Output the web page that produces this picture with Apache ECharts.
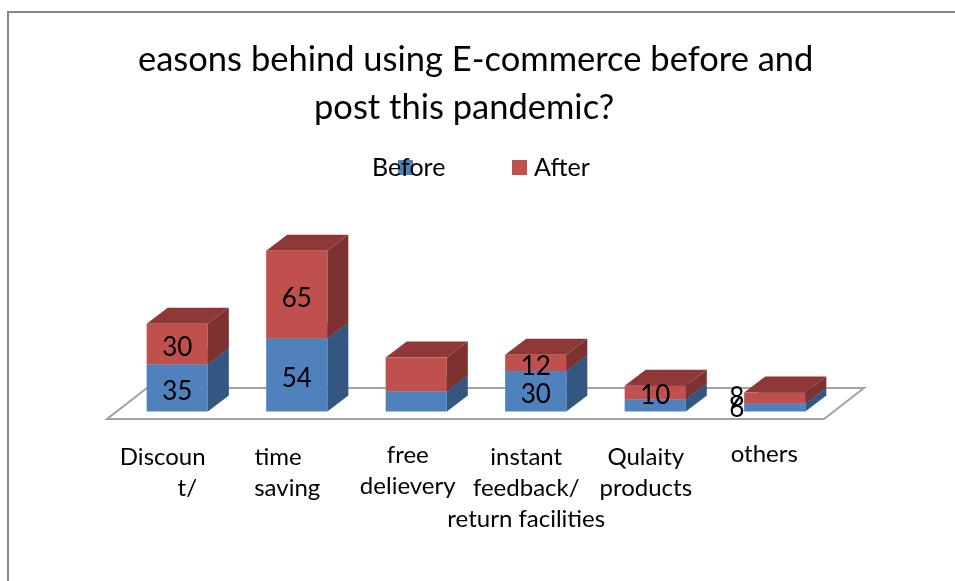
<!DOCTYPE html>
<html><head><meta charset="utf-8">
<style>html,body{margin:0;padding:0;background:#fff}#c{width:955px;height:581px}</style>
<script src="https://cdn.jsdelivr.net/npm/echarts@6/dist/echarts.min.js"></script>
</head><body><div id="c"></div>
<script>
const categories = ['Discoun\n        t/', 'time   \nsaving', 'free\ndelievery', 'instant\nfeedback/\nreturn facilities', 'Qulaity\nproducts', 'others'];
const before = [35, 54, 15, 30, 9, 6];
const after = [30, 65, 25, 12, 10, 8];
const beforeLabels = ['35', '54', '', '30', '', '6'];
const afterLabels = ['30', '65', '', '12', '10', '8'];
const titleLines = ['easons behind using E-commerce before and', 'post this pandemic?'];
const FONT = 'Lato';
const depthX = 21, depthY = 16;
const labelPads = [[3,8,0,0],[3,0,0,2],[1,0,0,4],[3,0,0,2],[3,0,0,2],[0,0,0,0]];
const labelShift = [0,0,0,0,0,-38];

function barSeries(name, values, base, labels, front, side, top, drop) {
  return {
    type: 'custom', name, coordinateSystem: 'cartesian2d', z: 3, clip: false,
    itemStyle: {color: front},
    data: values.map((v, i) => [i, v, base[i]]),
    renderItem(params, api) {
      const i = api.value(0), b = api.value(2), v = api.value(1);
      const w = api.size([1, 0])[0] * 0.512;
      const p0 = api.coord([i, b]), p1 = api.coord([i, b + v]);
      const cx = p0[0] + depthX / 2, x0 = cx - w / 2, x1 = cx + w / 2;
      const yb = p0[1] - 7.5, yt = p1[1] - 7.5;
      const poly = (pts, fill) => ({type: 'polygon', shape: {points: pts}, style: {fill}});
      const kids = [
        poly([[x0, yt], [x1, yt], [x1 + depthX, yt - depthY], [x0 + depthX, yt - depthY]], top),
        poly([[x1, yb], [x1 + depthX, yb - depthY], [x1 + depthX, yt - depthY], [x1, yt]], side),
        {type: 'rect', shape: {x: x0, y: yt, width: w, height: yb - yt}, style: {fill: front}}
      ];
      if (labels[i]) {
        kids.push({type: 'text', z2: 10, style: {text: labels[i], x: cx + labelShift[i], y: (yb + yt) / 2 + (labelShift[i] ? drop : 3.5),
          align: 'center', verticalAlign: 'middle', fill: '#000', font: '26px ' + FONT}});
      }
      return {type: 'group', children: kids};
    }
  };
}

const option = {
  animation: false,
  backgroundColor: '#fff',
  textStyle: {fontFamily: FONT},
  title: [
    {text: titleLines[0], left: 133, top: 37, textStyle: {fontFamily: FONT, fontSize: 34.5, fontWeight: 'normal', color: '#000'}},
    {text: titleLines[1], left: 309, top: 85, textStyle: {fontFamily: FONT, fontSize: 34.5, fontWeight: 'normal', color: '#000'}}
  ],
  legend: [
    {data: ['Before'], icon: 'rect', left: 372, top: 155, padding: 0, itemWidth: 15, itemHeight: 15, itemGap: 0,
      selectedMode: false, textStyle: {fontFamily: FONT, fontSize: 25, color: '#000', padding: [0, 0, 0, -46]}},
    {data: ['After'], icon: 'rect', left: 512, top: 155, padding: 0, itemWidth: 15, itemHeight: 15, itemGap: 0,
      selectedMode: false, textStyle: {fontFamily: FONT, fontSize: 25, color: '#000', padding: [0, 0, 0, 2]}}
  ],
  grid: {left: 107, right: 131, top: 257, bottom: 162},
  xAxis: {type: 'category', data: categories.map((c, i) => ({value: c, textStyle: {padding: labelPads[i]}})),
    axisLine: {show: false}, axisTick: {show: false},
    axisLabel: {interval: 0, margin: 20, lineHeight: 31, fontFamily: FONT, fontSize: 24, color: '#000', verticalAlign: 'top'}},
  yAxis: {type: 'value', min: 0, max: 120, show: false},
  series: [
    {type: 'custom', name: 'floor', coordinateSystem: 'cartesian2d', z: 1, silent: true, clip: false,
      data: [[0, 0]],
      renderItem(params, api) {
        const s = params.coordSys, xl = s.x, xr = s.x + s.width, y = s.y + s.height;
        return {type: 'polygon', shape: {points: [[xl, y], [xr, y], [xr + 40, y - 31], [xl + 40, y - 31]]},
          style: {fill: '#fff', stroke: '#a3a3a3', lineWidth: 2}};
      }},
    barSeries('Before', before, before.map(() => 0), beforeLabels, '#4F81BD', '#345781', '#3F6797', 1.5),
    barSeries('After', after, before, afterLabels, '#C0504D', '#7B3230', '#8E3937', 0)
  ],
  graphic: [{type: 'polyline', shape: {points: [[8, 581], [8, 12], [955, 12]]}, style: {fill: null, stroke: '#868686', lineWidth: 2}}]
};
echarts.init(document.getElementById('c'), null, {renderer: 'canvas'}).setOption(option);
</script></body></html>
